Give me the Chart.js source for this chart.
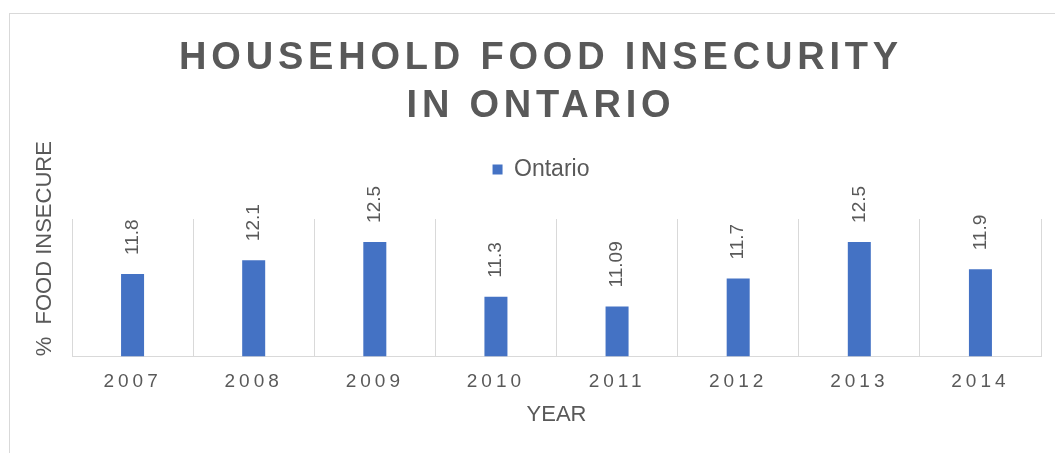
<!DOCTYPE html>
<html>
<head>
<meta charset="utf-8">
<script src="https://cdn.jsdelivr.net/npm/chart.js@4"></script>
<style>
  html, body { margin: 0; padding: 0; background: #fff; }
  #wrap { width: 1055px; height: 453px; }
</style>
</head>
<body>
<div id="wrap"><canvas id="myChart" width="1055" height="453"></canvas></div>
<script>
var years = ['2007', '2008', '2009', '2010', '2011', '2012', '2013', '2014'];
var ontario = [11.8, 12.1, 12.5, 11.3, 11.09, 11.7, 12.5, 11.9];
var titleLines = ['HOUSEHOLD FOOD INSECURITY', 'IN ONTARIO'];

var grey = '#595959';
var lineGrey = '#d9d9d9';
var fontName = "'Liberation Sans', Arial, sans-serif";

// wraps a draw method so its text is drawn with letter spacing
function spaced(obj, fn, ls) {
    if (!obj || obj['_ls_' + fn]) return;
    var orig = obj[fn];
    obj[fn] = function() {
        var ctx = this.ctx;
        var prev = ctx.letterSpacing;
        ctx.letterSpacing = ls;
        orig.apply(this, arguments);
        ctx.letterSpacing = prev;
    };
    obj['_ls_' + fn] = true;
}

var frameAndSpacing = {
    id: 'frameAndSpacing',
    beforeDraw: function(chart) {
        var ctx = chart.ctx;
        ctx.save();
        ctx.strokeStyle = lineGrey;
        ctx.lineWidth = 1;
        ctx.strokeRect(9.5, 13.5, 1200, 600);
        ctx.restore();
        spaced(chart.titleBlock, 'draw', '4.8px');
        spaced(chart.scales.x, 'drawLabels', '4px');
    }
};

// value labels, rotated, above each bar
var barLabels = {
    id: 'barLabels',
    afterDatasetsDraw: function(chart) {
        var ctx = chart.ctx;
        var meta = chart.getDatasetMeta(0);
        ctx.save();
        ctx.font = '19px ' + fontName;
        ctx.fillStyle = grey;
        ctx.textAlign = 'left';
        ctx.textBaseline = 'middle';
        meta.data.forEach(function(bar, i) {
            ctx.save();
            ctx.translate(bar.x, bar.y - 19);
            ctx.rotate(-Math.PI / 2);
            ctx.fillText(String(ontario[i]), 0, 0);
            ctx.restore();
        });
        ctx.restore();
    }
};

var ctx = document.getElementById('myChart').getContext('2d');
var chart = new Chart(ctx, {
    type: 'bar',
    data: {
        labels: years,
        datasets: [{
            label: 'Ontario',
            backgroundColor: '#4472c4',
            borderWidth: 0,
            data: ontario,
            categoryPercentage: 1,
            barPercentage: 0.19
        }]
    },
    options: {
        responsive: false,
        animation: false,
        layout: { padding: { left: 41, right: 14, top: 0, bottom: 25 } },
        plugins: {
            title: {
                display: true,
                text: titleLines,
                color: grey,
                font: { family: fontName, size: 38, weight: 'bold', lineHeight: 1.25 },
                padding: { top: 35, bottom: 0 }
            },
            subtitle: {
                // spacer between legend and plot
                display: true,
                text: '',
                weight: 500,
                font: { size: 1, lineHeight: 1 },
                padding: { top: 27, bottom: 0 }
            },
            legend: {
                display: true,
                labels: {
                    color: grey,
                    font: { family: fontName, size: 23 },
                    boxWidth: 10,
                    boxHeight: 10,
                    padding: 28
                }
            },
            tooltip: { enabled: false }
        },
        scales: {
            x: {
                grid: { display: true, color: lineGrey, drawTicks: false, offset: true },
                border: { display: true, color: lineGrey, width: 1 },
                ticks: {
                    color: grey,
                    font: { family: fontName, size: 19 },
                    padding: 14,
                    maxRotation: 0,
                    autoSkip: false
                },
                title: {
                    display: true,
                    text: 'YEAR',
                    color: grey,
                    font: { family: fontName, size: 22 },
                    padding: { top: -5.5, bottom: 0 }
                }
            },
            y: {
                min: 10,
                max: 13,
                grid: { display: false, drawTicks: false },
                border: { display: false },
                ticks: { display: false },
                title: {
                    display: true,
                    text: '%  FOOD INSECURE',
                    align: 'start',
                    color: grey,
                    font: { family: fontName, size: 22 },
                    padding: { top: -9.2, bottom: 13.8 }
                }
            }
        }
    },
    plugins: [frameAndSpacing, barLabels]
});
</script>
</body>
</html>
